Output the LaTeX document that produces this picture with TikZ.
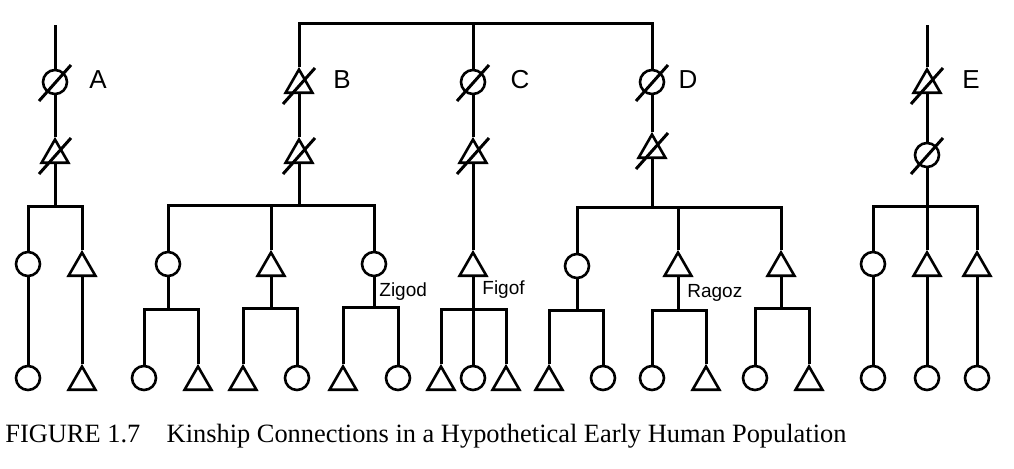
\documentclass[tikz,border=0pt]{standalone}
\usepackage{fontspec}
\setmainfont{Liberation Serif}
\newfontfamily\labelfont{Liberation Sans}
\usetikzlibrary{shapes.geometric}
\tikzset{
	female/.style={draw, circle, line width=1.3pt, inner sep=0pt, minimum size=12pt, fill=white},
	male/.style={draw, regular polygon, regular polygon sides=3, line width=1.3pt, inner sep=0pt, minimum size=15.5pt, fill=white},
	grouplabel/.style={font=\labelfont\fontsize{13}{15}\selectfont},
	% personal names beside a line
	kinname/.style={anchor=west, inner sep=0pt, font=\labelfont\fontsize{9.5}{11}\selectfont},
	link/.style={line width=1.5pt},
}

\begin{document}
\begin{tikzpicture}[x=0.5pt, y=-0.5pt]
		\useasboundingbox (0,0) rectangle (1014,468);
		
		% group A
		\coordinate (atop) at (55,25);
		\node (a1) [female] at (55,82) {};
		\node (a2) [male] at (55,155) {};
		\coordinate (abar) at (55,206);
		\node (ac1) [female] at (28,264) {};
		\node (ac2) [male] at (82,268) {};
		\node (ag1) [female] at (28,378) {};
		\node (ag2) [male] at (82,382) {};
		\node (alabel) [grouplabel] at (98,80) {A};
		
		% group B
		\node (b1) [male] at (299,85) {};
		\node (b2) [male] at (299,155) {};
		\coordinate (bbar) at (299,205);
		\node (bc1) [female] at (168,264) {};
		\node (bc2) [male] at (271,268) {};
		\node (bc3) [female] at (374,264) {};
		\coordinate (bc1bar) at (168,309);
		\coordinate (bc2bar) at (271,308);
		\coordinate (bc3bar) at (374,307);
		\node (bg1) [female] at (144,378) {};
		\node (bg2) [male] at (198,382) {};
		\node (bg3) [male] at (243,382) {};
		\node (bg4) [female] at (297,378) {};
		\node (bg5) [male] at (343,382) {};
		\node (bg6) [female] at (398,378) {};
		\node (blabel) [grouplabel] at (342,80) {B};
		\node (zigod) [kinname] at (379,292) {Zigod};
		
		% group C
		\coordinate (top) at (473,23);
		\node (c1) [female] at (473,82) {};
		\node (c2) [male] at (473,155) {};
		\node (cc1) [male] at (473,268) {};
		\coordinate (cbar) at (473,309);
		\node (cg1) [male] at (441,382) {};
		\node (cg2) [female] at (473,378) {};
		\node (cg3) [male] at (506,382) {};
		\node (clabel) [grouplabel] at (520,80) {C};
		\node (figof) [kinname] at (482,290) {Figof};
		
		% group D
		\node (d1) [female] at (652,82) {};
		\node (d2) [male] at (652,150) {};
		\coordinate (dbar) at (652,207);
		\node (dc1) [female] at (577,266) {};
		\node (dc2) [male] at (678,268) {};
		\node (dc3) [male] at (781,268) {};
		\coordinate (dc1bar) at (577,310);
		\coordinate (dc2bar) at (678,310);
		\coordinate (dc3bar) at (781,308);
		\node (dg1) [male] at (549,382) {};
		\node (dg2) [female] at (603,378) {};
		\node (dg3) [female] at (652,378) {};
		\node (dg4) [male] at (706,382) {};
		\node (dg5) [female] at (755,378) {};
		\node (dg6) [male] at (809,382) {};
		\node (dlabel) [grouplabel] at (688,80) {D};
		\node (ragoz) [kinname] at (687,293) {Ragoz};
		
		% group E
		\coordinate (etop) at (927,25);
		\node (e1) [male] at (927,85) {};
		\node (e2) [female] at (927,155) {};
		\coordinate (ebar) at (927,206);
		\node (ec1) [female] at (873,264) {};
		\node (ec2) [male] at (927,268) {};
		\node (ec3) [male] at (977,268) {};
		\node (eg1) [female] at (873,378) {};
		\node (eg2) [female] at (927,378) {};
		\node (eg3) [female] at (977,378) {};
		\node (elabel) [grouplabel] at (971,80) {E};
		
		\node (caption) [anchor=west, inner sep=0pt, font=\fontsize{13.2}{15}\selectfont] at (5,436) {FIGURE 1.7\quad Kinship Connections in a Hypothetical Early Human Population};
		
		\begin{scope}[link]
			\draw (atop) -- (a1) -- (a2) -- (abar);
			\draw (ac1) |- (abar) -| (ac2);
			\draw (ac1) -- (ag1);
			\draw (ac2) -- (ag2);
			
			\draw (b1) |- (top) -| (d1);
			\draw (top) -- (c1);
			
			\draw (b1) -- (b2) -- (bbar);
			\draw (bc1) |- (bbar) -| (bc3);
			\draw (bc2) -- (bc2 |- bbar);
			\draw (bc1) -- (bc1bar);
			\draw (bg1) |- (bc1bar) -| (bg2);
			\draw (bc2) -- (bc2bar);
			\draw (bg3) |- (bc2bar) -| (bg4);
			\draw (bc3) -- (bc3bar);
			\draw (bg5) |- (bc3bar) -| (bg6);
			
			\draw (c1) -- (c2) -- (cc1) -- (cg2);
			\draw (cg1) |- (cbar) -| (cg3);
			
			\draw (d1) -- (d2) -- (dbar);
			\draw (dc1) |- (dbar) -| (dc3);
			\draw (dc2) -- (dc2 |- dbar);
			\draw (dc1) -- (dc1bar);
			\draw (dg1) |- (dc1bar) -| (dg2);
			\draw (dc2) -- (dc2bar);
			\draw (dg3) |- (dc2bar) -| (dg4);
			\draw (dc3) -- (dc3bar);
			\draw (dg5) |- (dc3bar) -| (dg6);
			
			\draw (etop) -- (e1) -- (e2) -- (ebar);
			\draw (ec1) |- (ebar) -| (ec3);
			\draw (ec2) -- (ec2 |- ebar);
			\draw (ec1) -- (eg1);
			\draw (ec2) -- (eg2);
			\draw (ec3) -- (eg3);
			
			% slashes for the dead
			\foreach \n in {a1,a2,b1,b2,c1,c2,d1,d2,e1,e2}
				\draw ([shift={(-8pt,-9.5pt)}]\n.center) -- ([shift={(8pt,8.5pt)}]\n.center);
		\end{scope}
	\end{tikzpicture}
\end{document}
